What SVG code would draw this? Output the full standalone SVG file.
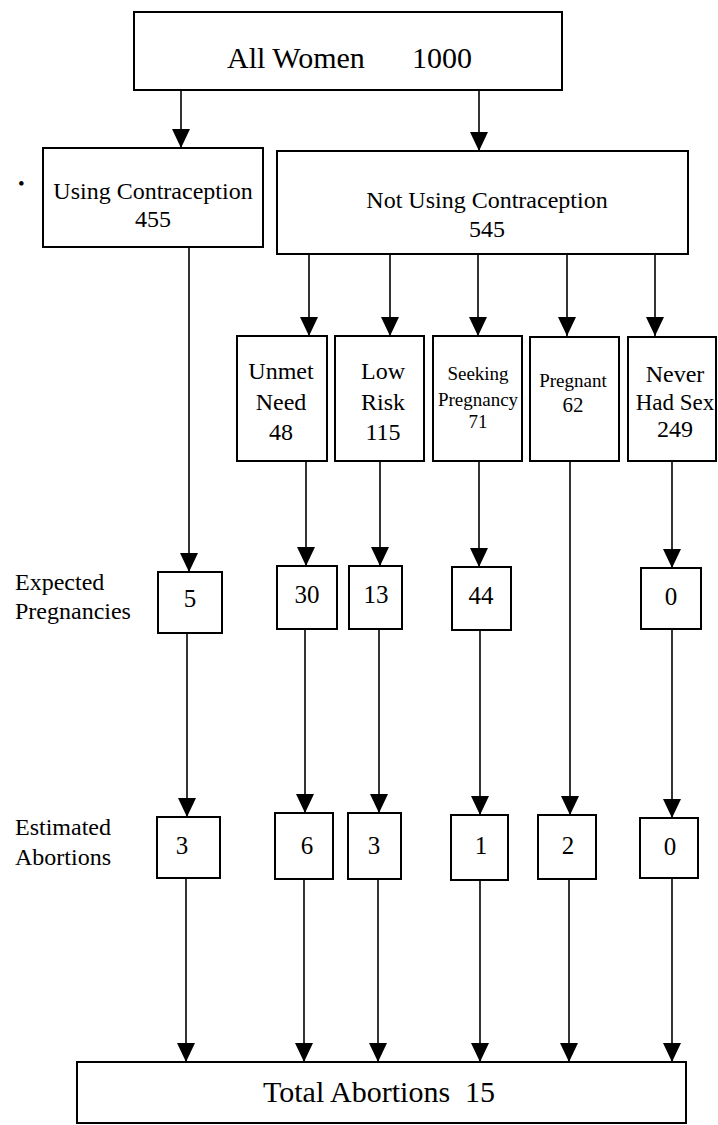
<svg xmlns="http://www.w3.org/2000/svg" width="718" height="1125" viewBox="0 0 718 1125">
  <defs>
    <marker id="arr" markerUnits="userSpaceOnUse" viewBox="0 0 19 18" refX="19" refY="9" markerWidth="19" markerHeight="18" orient="auto">
      <path d="M0,0 L19,9 L0,18 z" fill="#000"/>
    </marker>
    <style>
      .box { fill: #fff; stroke: #000; stroke-width: 2; }
      .ln { fill: none; stroke: #000; stroke-width: 1.6; }
      .ar { fill: none; stroke: #000; stroke-width: 1.6; marker-end: url(#arr); }
      text { font-family: "Liberation Serif", "Times New Roman", serif; fill: #000; }
      .t30 { font-size: 30px; }
      .t24 { font-size: 24px; }
      .t25 { font-size: 25px; }
      .t23 { font-size: 23px; }
      .t19 { font-size: 19px; }
      .t21 { font-size: 21px; }
      .c { text-anchor: middle; }
    </style>
  </defs>
  <rect x="0" y="0" width="718" height="1125" fill="#fff"/>

  <g id="connectors">
    <path class="ar" d="M181,90 V148"/>
    <path class="ar" d="M479,90 V151"/>
    <path class="ar" d="M309,254 V336"/>
    <path class="ar" d="M390,254 V336"/>
    <path class="ar" d="M478,254 V336"/>
    <path class="ar" d="M567,254 V336"/>
    <path class="ar" d="M655,254 V336"/>
    <path class="ar" d="M189,247 V572"/>
    <path class="ar" d="M306,461 V566"/>
    <path class="ar" d="M380,461 V566"/>
    <path class="ar" d="M479,461 V567"/>
    <path class="ar" d="M672,461 V568"/>
    <path class="ar" d="M570,461 V815"/>
    <path class="ar" d="M187,633 V817"/>
    <path class="ar" d="M305,629 V813"/>
    <path class="ar" d="M379,629 V813"/>
    <path class="ar" d="M480,630 V815"/>
    <path class="ar" d="M672,629 V818"/>
    <path class="ar" d="M186,878 V1062"/>
    <path class="ar" d="M304,879 V1062"/>
    <path class="ar" d="M378,879 V1062"/>
    <path class="ar" d="M480,880 V1062"/>
    <path class="ar" d="M569,879 V1062"/>
    <path class="ar" d="M672,878 V1062"/>
  </g>

  <g id="all-women">
    <rect class="box" x="134" y="12" width="428" height="78"/>
    <text class="t30" y="68"><tspan x="227">All Women</tspan><tspan x="412">1000</tspan></text>
  </g>

  <g id="using">
    <text class="t19" x="18" y="190">•</text>
    <rect class="box" x="43" y="148" width="220" height="99"/>
    <text class="t24 c" x="153" y="199">Using Contraception</text>
    <text class="t24 c" x="153" y="227">455</text>
  </g>

  <g id="not-using">
    <rect class="box" x="277" y="151" width="411" height="103"/>
    <text class="t24 c" x="487" y="208">Not Using Contraception</text>
    <text class="t24 c" x="487" y="237">545</text>
  </g>

  <g id="unmet-need">
    <rect class="box" x="237" y="336" width="90" height="125"/>
    <text class="t24 c" x="281" y="379">Unmet</text>
    <text class="t24 c" x="281" y="410">Need</text>
    <text class="t24 c" x="281" y="440">48</text>
  </g>

  <g id="low-risk">
    <rect class="box" x="335" y="336" width="89" height="125"/>
    <text class="t24 c" x="383" y="379">Low</text>
    <text class="t24 c" x="383" y="410">Risk</text>
    <text class="t24 c" x="383" y="440">115</text>
  </g>

  <g id="seeking">
    <rect class="box" x="433" y="336" width="89" height="125"/>
    <text class="t19 c" x="478" y="380">Seeking</text>
    <text class="t19 c" x="478" y="406">Pregnancy</text>
    <text class="t19 c" x="478" y="428">71</text>
  </g>

  <g id="pregnant">
    <rect class="box" x="530" y="337" width="89" height="124"/>
    <text class="t19 c" x="573" y="387">Pregnant</text>
    <text class="t21 c" x="573" y="412">62</text>
  </g>

  <g id="never-had-sex">
    <rect class="box" x="628" y="337" width="88" height="124"/>
    <text class="t24 c" x="675" y="382">Never</text>
    <text class="t23 c" x="675" y="410">Had Sex</text>
    <text class="t24 c" x="675" y="437">249</text>
  </g>

  <g id="label-expected">
    <text class="t24" x="15" y="590">Expected</text>
    <text class="t24" x="15" y="619">Pregnancies</text>
  </g>

  <g id="exp-using">
    <rect class="box" x="158" y="572" width="64" height="61"/>
    <text class="t25 c" x="190" y="607">5</text>
  </g>
  <g id="exp-unmet">
    <rect class="box" x="277" y="566" width="60" height="63"/>
    <text class="t25 c" x="307" y="603">30</text>
  </g>
  <g id="exp-lowrisk">
    <rect class="box" x="349" y="566" width="53" height="63"/>
    <text class="t25 c" x="376" y="603">13</text>
  </g>
  <g id="exp-seeking">
    <rect class="box" x="452" y="567" width="59" height="63"/>
    <text class="t25 c" x="481" y="604">44</text>
  </g>
  <g id="exp-never">
    <rect class="box" x="641" y="568" width="60" height="61"/>
    <text class="t25 c" x="671" y="605">0</text>
  </g>

  <g id="label-estimated">
    <text class="t24" x="15" y="835">Estimated</text>
    <text class="t24" x="15" y="865">Abortions</text>
  </g>

  <g id="est-using">
    <rect class="box" x="157" y="817" width="63" height="61"/>
    <text class="t25 c" x="182" y="854">3</text>
  </g>
  <g id="est-unmet">
    <rect class="box" x="275" y="813" width="58" height="66"/>
    <text class="t25 c" x="307" y="854">6</text>
  </g>
  <g id="est-lowrisk">
    <rect class="box" x="348" y="813" width="53" height="66"/>
    <text class="t25 c" x="374" y="854">3</text>
  </g>
  <g id="est-seeking">
    <rect class="box" x="451" y="815" width="57" height="65"/>
    <text class="t25 c" x="481" y="854">1</text>
  </g>
  <g id="est-pregnant">
    <rect class="box" x="538" y="815" width="58" height="64"/>
    <text class="t25 c" x="568" y="854">2</text>
  </g>
  <g id="est-never">
    <rect class="box" x="640" y="818" width="58" height="60"/>
    <text class="t25 c" x="670" y="855">0</text>
  </g>

  <g id="total">
    <rect class="box" x="77" y="1062" width="609" height="61"/>
    <text class="t30" y="1102"><tspan x="263">Total Abortions</tspan><tspan x="465">15</tspan></text>
  </g>
</svg>
